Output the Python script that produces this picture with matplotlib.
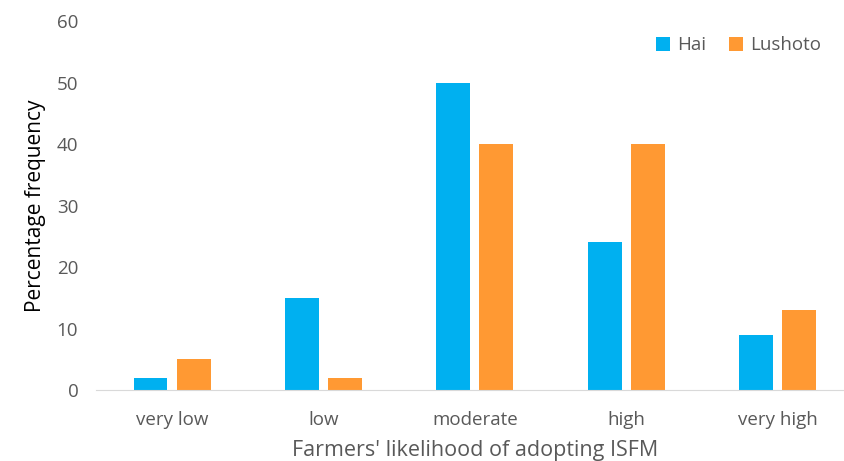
import numpy as np
import matplotlib.pyplot as plt

# Data
categories = ["very low", "low", "moderate", "high", "very high"]
hai = [2, 15, 50, 24, 9]
lushoto = [5, 2, 40, 40, 13]

plt.rcParams["font.family"] = ["Open Sans", "DejaVu Sans"]

fig = plt.figure(figsize=(8.45, 4.61), dpi=100)
ax = fig.add_axes([0.114, 0.154, 0.896, 0.80])

x = np.arange(len(categories))
w = 0.224
ax.bar(x - 0.142, hai, width=w, color="#00B0F0", label="Hai")
ax.bar(x + 0.142, lushoto, width=w, color="#FF9933", label="Lushoto")

ax.set_xlim(-0.5, 4.5)
ax.set_ylim(0, 60)
ax.set_yticks(range(0, 61, 10))
ax.set_xticks(x)
ax.set_xticklabels(categories)
ax.tick_params(axis="both", length=0, labelsize=13.5, labelcolor="#595959")
ax.tick_params(axis="x", pad=15)
ax.tick_params(axis="y", pad=13)

for s in ["top", "right", "left"]:
    ax.spines[s].set_visible(False)
ax.spines["bottom"].set_color("#D9D9D9")

ax.set_ylabel("Percentage frequency", fontsize=15, color="black", labelpad=8)
ax.set_xlabel("Farmers' likelihood of adopting ISFM", fontsize=15.5, color="#595959", labelpad=8)

ax.legend(loc="upper right", bbox_to_anchor=(0.98, 1.005), frameon=False, ncol=2,
          fontsize=13.5, labelcolor="#595959", handlelength=0.75, handleheight=0.75,
          handletextpad=0.4, columnspacing=1.2)

fig.savefig("out.png", dpi=100)
